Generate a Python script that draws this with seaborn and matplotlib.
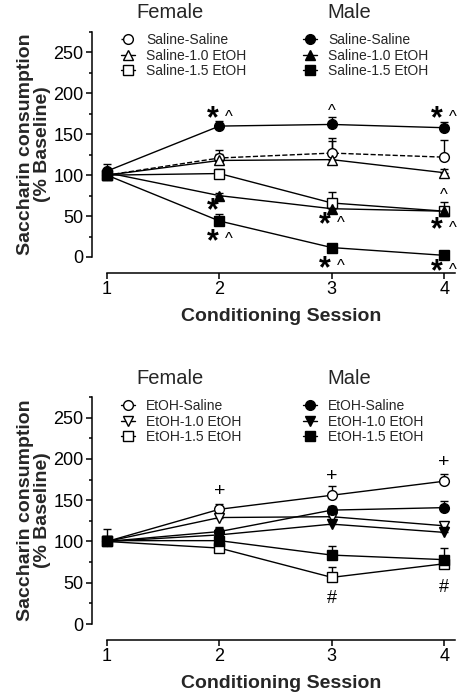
import numpy as np
import seaborn as sns
import matplotlib.pyplot as plt
from matplotlib.ticker import MultipleLocator

sessions = [1, 2, 3, 4]

# top panel: saline pre-exposure groups
top_labels = ['Saline-Saline', 'Saline-1.0 EtOH', 'Saline-1.5 EtOH']
top_female = [[100, 121, 127, 122], [100, 118, 119, 103], [100, 102, 66, 56]]
top_female_sem = [[8, 10, 15, 21], [6, 8, 27, 5], [5, 6, 14, 11]]
top_male = [[105, 160, 162, 158], [103, 75, 59, 56], [100, 44, 11.5, 2]]
top_male_sem = [[9, 6, 9, 7], [5, 3, 3, 3], [5, 9, 3, 2]]

# bottom panel: EtOH pre-exposure groups
bot_labels = ['EtOH-Saline', 'EtOH-1.0 EtOH', 'EtOH-1.5 EtOH']
bot_female = [[100, 139, 156, 173], [100, 129, 130, 119], [100, 92, 56.5, 73]]
bot_female_sem = [[5, 7, 11, 9], [5, 6, 5, 5], [5, 5, 13, 4]]
bot_male = [[100, 112, 138, 141], [100, 108, 121, 111], [101, 101, 83.5, 78]]
bot_male_sem = [[5, 6, 5, 8], [5, 8, 5, 5], [14, 8, 11, 14]]

# significance marks (session, value, symbol)
top_mark_x = [2, 3, 4, 2, 2, 3, 4, 3, 4, 4]
top_mark_y = [175, 182, 175, 62, 25, 45, 79, -8, 39, -12]
top_marks = ['*^', '^', '*^', '*', '*^', '*^', '^', '*^', '*^', '*^']
bot_mark_x = [2, 3, 4, 3, 4]
bot_mark_y = [163, 182, 198, 33, 47]
bot_marks = ['+', '+', '+', '#', '#']

sns.set_theme(style='ticks')
plt.rcParams['font.family'] = ['Liberation Sans', 'DejaVu Sans']

fig = plt.figure(figsize=(4.62, 6.97), dpi=100)
ax1 = fig.add_axes([0.2316, 0.6313, 0.7543, 0.3228])
ax2 = fig.add_axes([0.2316, 0.1047, 0.7543, 0.3257])

# vertical ink centre of each glyph (fraction of font size) and size
glyph = {'*': (0.44, 22), '^': (0.47, 12), '+': (0.35, 14), '#': (0.35, 13)}


def put_mark(ax, x, y, s):
    parts = list(s)
    shifts = [-5, 6.5] if len(parts) == 2 else [-5]
    for p, dx in zip(parts, shifts):
        if len(parts) == 1 and p != '*':
            dx = 0
        c, fs = glyph[p]
        ax.annotate(p, (x, y), xytext=(dx, -c * fs), textcoords='offset points',
                    ha='center', va='baseline', fontsize=fs, color='black',
                    fontweight='bold' if p == '*' else 'normal', annotation_clip=False)


def panel(ax, labels, female, fsem, male, msem, markers, dashed, legend_top):
    handles = {'f': [], 'm': []}
    groups = [('f', female, fsem, 'white'), ('m', male, msem, 'black')]
    for sex, vals, sems, fill in groups:
        for i in range(3):
            ax.errorbar(sessions, vals[i], yerr=[np.zeros(4), sems[i]], fmt='none',
                        ecolor='black', elinewidth=1, capsize=3, capthick=1,
                        clip_on=False, zorder=2)
            ls = '--' if (dashed and sex == 'f' and i == 0) else '-'
            sns.lineplot(x=sessions, y=vals[i], ax=ax, color='black', marker=markers[i],
                         markersize=7, markerfacecolor=fill, markeredgecolor='black',
                         markeredgewidth=1, linestyle=ls, linewidth=1, clip_on=False,
                         zorder=3, legend=False)
            line = ax.lines[-1]
            line.set_label(labels[i])
            handles[sex].append(line)

    kw = dict(loc='upper left', bbox_transform=fig.transFigure, frameon=False, fontsize=10,
              handlelength=1.0, handletextpad=0.8, labelspacing=0.12, borderpad=0,
              borderaxespad=0)
    leg = ax.legend(handles=handles['f'], bbox_to_anchor=(121 / 462, legend_top), **kw)
    ax.add_artist(leg)
    ax.legend(handles=handles['m'], bbox_to_anchor=(303 / 462, legend_top), **kw)

    ax.set_xlim(1, 4.1)
    ax.set_ylim(0, 275)
    ax.set_xticks(sessions)
    ax.set_yticks([0, 50, 100, 150, 200, 250])
    ax.yaxis.set_minor_locator(MultipleLocator(25))
    for side in ['top', 'right']:
        ax.spines[side].set_visible(False)
    ax.spines['left'].set_position(('outward', 11))
    ax.spines['bottom'].set_position(('outward', 11.5))
    for side in ['left', 'bottom']:
        ax.spines[side].set_linewidth(1.1)
        ax.spines[side].set_color('black')
    ax.tick_params(which='major', direction='out', length=4, width=1.1, labelsize=13,
                   color='black', labelcolor='black', pad=2)
    ax.tick_params(which='minor', direction='out', length=2.5, width=1.1, color='black')
    ax.set_xlabel('Conditioning Session', fontsize=14, fontweight='bold', labelpad=7)
    ax.set_ylabel('Saccharin consumption\n(% Baseline)', fontsize=14, fontweight='bold',
                  linespacing=1.0)
    ax.yaxis.set_label_coords(-0.16, 0.5)


panel(ax1, top_labels, top_female, top_female_sem, top_male, top_male_sem,
      ['o', '^', 's'], True, 1 - 33 / 697)
panel(ax2, bot_labels, bot_female, bot_female_sem, bot_male, bot_male_sem,
      ['o', 'v', 's'], False, 1 - 399 / 697)

for x, y, s in zip(top_mark_x, top_mark_y, top_marks):
    put_mark(ax1, x, y, s)
for x, y, s in zip(bot_mark_x, bot_mark_y, bot_marks):
    put_mark(ax2, x, y, s)

for ty in [13, 379]:
    fig.text(170 / 462, 1 - ty / 697, 'Female', ha='center', va='center', fontsize=14.5)
    fig.text(349 / 462, 1 - ty / 697, 'Male', ha='center', va='center', fontsize=14.5)

fig.savefig('out.png', dpi=100)
